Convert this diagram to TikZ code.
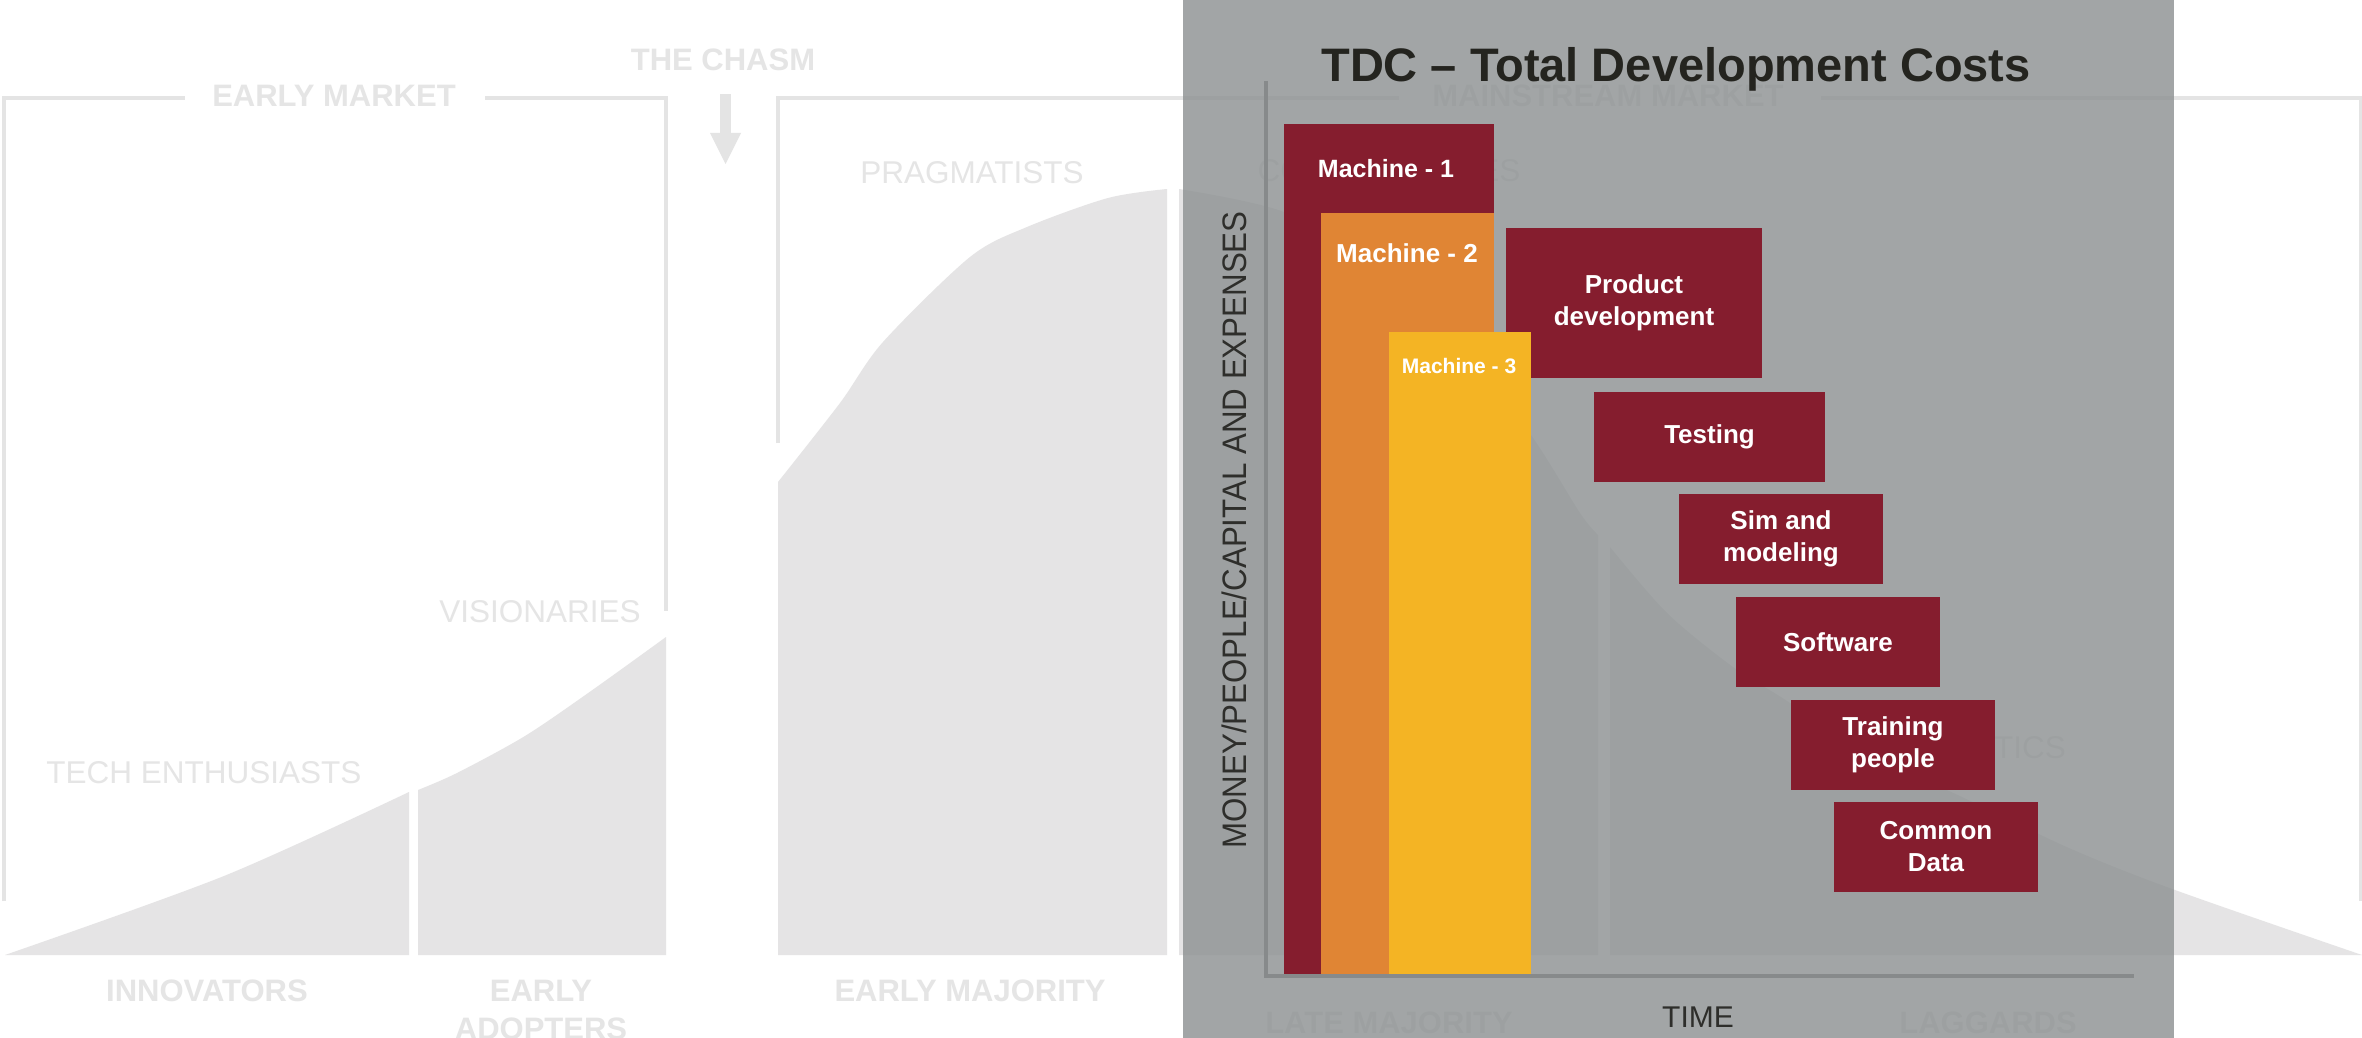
\documentclass[tikz,border=0pt]{standalone}
\usepackage{fontspec}
\setmainfont{Liberation Sans}
\usepackage{graphicx}
\definecolor{bgline}{HTML}{E4E4E4}
\definecolor{bgtext}{HTML}{E5E5E5}
\definecolor{curve}{HTML}{E5E4E5}
\definecolor{panel}{RGB}{141,145,146}
\definecolor{axiscol}{HTML}{878A8B}
\definecolor{darkred}{HTML}{851D2E}
\definecolor{orangebar}{HTML}{E08534}
\definecolor{yellowbar}{HTML}{F4B424}
\definecolor{titlecol}{HTML}{24241F}
\definecolor{labcol}{HTML}{2E2E2B}
\begin{document}
\begin{tikzpicture}[x=1pt,y=-1pt,
  bracket/.style={draw=bgline,line width=4pt},
  seg/.style={fill=curve},
  bglab/.style={text=bgtext,anchor=base,inner sep=0,font=\fontsize{31}{37}\selectfont\bfseries},
  bglabl/.style={text=bgtext,anchor=base,inner sep=0,font=\fontsize{31.5}{37}\selectfont},
  stagebox/.style={fill=darkred,text=white,align=center,inner sep=0,font=\fontsize{26}{32}\selectfont\bfseries},
  machlab/.style={text=white,anchor=base,inner sep=0},
  axisline/.style={draw=axiscol,line width=4pt}]
\useasboundingbox (0,0) rectangle (2362,1038);
\fill[white] (0,0) rectangle (2362,1038);

% ---------- background: technology adoption life cycle ----------
\draw[bracket] (4,901) -- (4,98) -- (185,98);
\draw[bracket] (485,98) -- (666,98) -- (666,611);
\draw[bracket] (778,443) -- (778,98) -- (1399,98);
\draw[bracket] (1821,98) -- (2361,98) -- (2361,901);

\fill[bgline] (719.5,94) rectangle (730.5,134);
\fill[bgline] (710,133) -- (741,133) -- (725.5,164) -- cycle;

\fill[seg] (5,955) -- plot[smooth] coordinates {(5,955) (224,876) (409,792)} -- (409,955) -- cycle;
\fill[seg] (418,955) -- (418,790) -- plot[smooth] coordinates {(418,790) (457,773) (525,736) (591,691) (666,637)} -- (666,955) -- cycle;
\fill[seg] (778,955) -- (778,482) -- plot[smooth,tension=0.5] coordinates {(778,482) (840,403) (883,342) (970,257) (1027,227) (1108,198) (1167,189)} -- (1167,955) -- cycle;
\fill[seg] (1179,955) -- (1179,189) -- plot[smooth] coordinates {(1179,189) (1284,212) (1380,268) (1460,345) (1531,435) (1580,513) (1598,535)} -- (1598,955) -- cycle;
\fill[seg] (1610,955) -- (1610,547) -- plot[smooth] coordinates {(1610,547) (1667,613) (1733,667) (1790,703) (1858,754) (1949,791) (2069,848) (2175,890) (2362,955)} -- cycle;

\node[bglab] (earlymarket) at (334,107) {EARLY MARKET};
\node[bglab] (chasm) at (723,71) {THE CHASM};
\node[bglab] (mainstream) at (1608,107) {MAINSTREAM MARKET};
\node[bglabl] (pragmatists) at (972,183) {PRAGMATISTS};
\node[bglabl] (conservatives) at (1389,182) {CONSERVATIVES};
\node[bglabl] (visionaries) at (540,622) {VISIONARIES};
\node[bglabl] (techenth) at (204,783) {TECH ENTHUSIASTS};
\node[bglabl] (skeptics) at (1988,758) {SKEPTICS};
\node[bglab] (innovators) at (207,1001) {INNOVATORS};
\node[bglab] (early) at (541,1001) {EARLY};
\node[bglab] (adopters) at (541,1039) {ADOPTERS};
\node[bglab] (earlymaj) at (970,1001) {EARLY MAJORITY};
\node[bglab] (latemaj) at (1389,1033) {LATE MAJORITY};
\node[bglab] (laggards) at (1988,1033) {LAGGARDS};

% ---------- overlay panel ----------
\fill[panel,fill opacity=0.81] (1183,0) rectangle (2174,1038);

\node[text=titlecol,anchor=base,inner sep=0,font=\fontsize{47}{56}\selectfont\bfseries] (title) at (1676,82) {TDC -- Total Development Costs};

% axes
\coordinate (ytop) at (1266,81);
\coordinate (origin) at (1266,976);
\coordinate (xend) at (2134,976);
\draw[axisline] (ytop) -- (origin) -- (xend);

% stage boxes
\node[stagebox,minimum width=256,minimum height=150] (prod) at (1634,303) {Product\\development};
\node[stagebox,minimum width=231,minimum height=90] (test) at (1709.5,437) {Testing};
\node[stagebox,minimum width=204,minimum height=90] (sim) at (1781,539) {Sim and\\modeling};
\node[stagebox,minimum width=204,minimum height=90] (soft) at (1838,642) {Software};
\node[stagebox,minimum width=204,minimum height=90] (train) at (1893,745) {Training\\people};
\node[stagebox,minimum width=204,minimum height=90] (common) at (1936,847) {Common\\Data};

% machine bars (Machine - 3 lies over the product box)
\fill[darkred] (1284,124) rectangle (1494,974);
\fill[orangebar] (1321,213) rectangle (1494,974);
\fill[yellowbar] (1389,332) rectangle (1531,974);
\node[machlab,font=\fontsize{25}{30}\selectfont\bfseries] (m1) at (1386,178) {Machine - 1};
\node[machlab,font=\fontsize{26}{31}\selectfont\bfseries] (m2) at (1407,262) {Machine - 2};
\node[machlab,font=\fontsize{21}{25}\selectfont\bfseries] (m3) at (1459,373) {Machine - 3};

% axis labels
\node[text=labcol,anchor=base,inner sep=0,rotate=90,font=\fontsize{34}{40}\selectfont] (ylab) at (1246,530) {\scalebox{0.92}[1]{MONEY/PEOPLE/CAPITAL AND EXPENSES}};
\node[text=labcol,anchor=base,inner sep=0,font=\fontsize{30}{36}\selectfont] (time) at (1698,1027) {TIME};
\end{tikzpicture}
\end{document}
